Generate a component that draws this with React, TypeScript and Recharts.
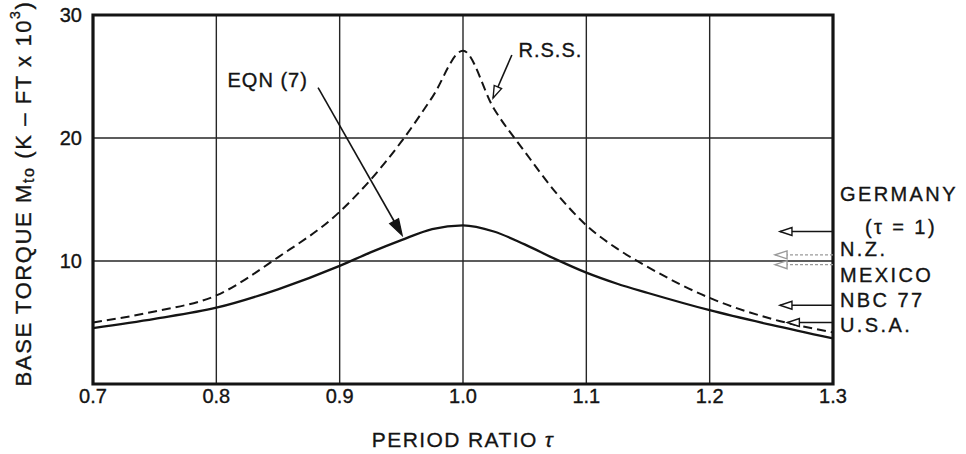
import {
  CartesianGrid,
  Line,
  LineChart,
  ReferenceArea,
  ReferenceDot,
  ReferenceLine,
  XAxis,
  YAxis,
} from "recharts";

// period ratio tau and base torque (K-FT x 10^3)
const tau = [0.7, 0.75, 0.8, 0.85, 0.9, 0.925, 0.95, 0.975, 1.0, 1.025, 1.05, 1.075, 1.1, 1.125, 1.15, 1.2, 1.25, 1.3];
const eqn7 = [4.55, 5.3, 6.2, 7.7, 9.6, 10.7, 11.7, 12.6, 12.9, 12.4, 11.35, 10.15, 9.05, 8.15, 7.4, 6.0, 4.8, 3.7];
const rss = [5.0, 5.9, 7.2, 10.3, 14.0, 16.6, 19.7, 23.3, 27.1, 22.4, 18.9, 15.6, 12.9, 11.0, 9.5, 7.0, 5.3, 4.2];

const xTicks = [0.7, 0.8, 0.9, 1.0, 1.1, 1.2, 1.3];
const yTicks = [10, 20, 30];

// code values at tau = 1 (arrows on the right edge)
const codeValues = [12.4, 10.5, 9.7, 6.4, 5.0];
const codeTips = [1.257, 1.253, 1.253, 1.257, 1.263];
const codeFaint = [false, true, true, false, false];

// right side captions
const captions = ["GERMANY", "(τ = 1)", "N.Z.", "MEXICO", "NBC 77", "U.S.A."];
const captionY = [15.45, 12.76, 10.98, 8.86, 6.83, 4.8];
const captionDx = [7, 32, 7, 7, 7, 7];

const data = tau.map((t, i) => ({ t, eqn7: eqn7[i], rss: rss[i] }));

const FONT = "'Liberation Sans', Arial, Helvetica, sans-serif";
const INK = "#141414";

function Arrow(props: any) {
  const { x1, y1, x2, y2, open, faint } = props;
  const len = open ? 12 : 16;
  const half = open ? 4 : 5;
  const a = Math.atan2(y2 - y1, x2 - x1);
  const c = Math.cos(a);
  const s = Math.sin(a);
  const bx = x2 - len * c;
  const by = y2 - len * s;
  const pts = `${x2},${y2} ${bx + half * s},${by - half * c} ${bx - half * s},${by + half * c}`;
  const col = faint ? "#9a9a9a" : INK;
  return (
    <g>
      <line
        x1={x1}
        y1={y1}
        x2={open ? x2 : bx}
        y2={open ? y2 : by}
        stroke={col}
        strokeWidth={faint ? 1.3 : 1.6}
        strokeDasharray={faint ? "3 2" : undefined}
      />
      <polygon points={pts} fill={open ? "#fff" : INK} stroke={col} strokeWidth={1.4} />
    </g>
  );
}

function Caption(text: string, dx: number, size = 20, spacing = 2.4) {
  return (p: any) => (
    <text
      x={p.cx + dx}
      y={p.cy}
      dominantBaseline="central"
      fill={INK}
      stroke={INK}
      strokeWidth={0.35}
      fontSize={size}
      fontFamily={FONT}
      letterSpacing={spacing}
    >
      {text}
    </text>
  );
}

function YLabel(p: any) {
  const vb = p.viewBox;
  const cx = vb.x + 23;
  const cy = vb.y + vb.height / 2 - 6;
  return (
    <text
      x={cx}
      y={cy}
      transform={`rotate(-90 ${cx} ${cy})`}
      textAnchor="middle"
      dominantBaseline="central"
      fill={INK}
      stroke={INK}
      strokeWidth={0.35}
      fontSize={22}
      fontFamily={FONT}
      letterSpacing={1.6}
    >
      BASE TORQUE M
      <tspan fontSize={16} dy={5}>to</tspan>
      <tspan dy={-5}> (K – FT x 10</tspan>
      <tspan fontSize={14} dy={-8}>3</tspan>
      <tspan dy={8}>)</tspan>
    </text>
  );
}

function XLabel(p: any) {
  const vb = p.viewBox;
  return (
    <text
      x={vb.x + vb.width / 2}
      y={vb.y + 55}
      textAnchor="middle"
      dominantBaseline="central"
      fill={INK}
      stroke={INK}
      strokeWidth={0.3}
      fontSize={21}
      fontFamily={FONT}
      letterSpacing={1.4}
    >
      PERIOD RATIO <tspan fontStyle="italic">τ</tspan>
    </text>
  );
}

export default function App() {
  const tick = { fill: INK, stroke: INK, strokeWidth: 0.35, fontSize: 20, fontFamily: FONT };
  return (
    <div style={{ position: "absolute", left: 0, top: 0, background: "#fff" }}>
      <LineChart width={966} height={454} data={data} margin={{ top: 15, right: 133, bottom: 0, left: 0 }}>
        <CartesianGrid stroke="#262626" strokeWidth={1.4} />
        <XAxis
          dataKey="t"
          type="number"
          domain={[0.7, 1.3]}
          ticks={xTicks}
          tickFormatter={(v) => v.toFixed(1)}
          tickLine={false}
          axisLine={false}
          tickSize={0}
          tickMargin={5}
          height={70}
          tick={tick}
          label={{ content: XLabel }}
        />
        <YAxis
          type="number"
          domain={[0, 30]}
          ticks={yTicks}
          tickLine={false}
          axisLine={false}
          tickSize={0}
          tickMargin={11}
          width={93}
          tick={tick}
          label={{ content: YLabel }}
        />
        <ReferenceArea x1={0.7} x2={1.3} y1={0} y2={30} fill="none" stroke={INK} strokeWidth={3.2} />
        <Line type="monotone" dataKey="rss" stroke={INK} strokeWidth={2} strokeDasharray="9 5" dot={false} isAnimationActive={false} />
        <Line type="monotone" dataKey="eqn7" stroke={INK} strokeWidth={2.3} dot={false} isAnimationActive={false} />

        <ReferenceLine segment={[{ x: 0.8825, y: 24.1 }, { x: 0.9506, y: 12.1 }]} shape={(p: any) => <Arrow {...p} />} />
        <ReferenceLine segment={[{ x: 1.0396, y: 26.75 }, { x: 1.0244, y: 23.25 }]} shape={(p: any) => <Arrow {...p} open />} />
        <ReferenceDot x={0.895} y={24.7} r={0} shape={Caption("EQN (7)", -106, 20, 1)} />
        <ReferenceDot x={1.045} y={27.15} r={0} shape={Caption("R.S.S.", 0, 20, 1)} />

        {codeValues.map((v, i) => (
          <ReferenceLine
            key={"c" + i}
            segment={[{ x: 1.3, y: v }, { x: codeTips[i], y: v }]}
            shape={(p: any) => <Arrow {...p} open faint={codeFaint[i]} />}
          />
        ))}
        {captions.map((c, i) => (
          <ReferenceDot key={"t" + i} x={1.3} y={captionY[i]} r={0} ifOverflow="visible" shape={Caption(c, captionDx[i])} />
        ))}
      </LineChart>
    </div>
  );
}
